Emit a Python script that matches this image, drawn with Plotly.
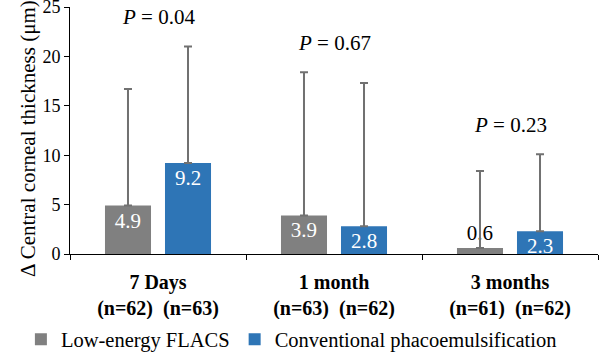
import plotly.graph_objects as go

categories = ["7 Days", "1 month", "3 months"]
n_flacs = [62, 63, 61]
n_phaco = [63, 62, 62]
flacs_mean = [4.9, 3.9, 0.6]
flacs_sd = [11.8, 14.5, 7.8]
phaco_mean = [9.2, 2.8, 2.3]
phaco_sd = [11.8, 14.5, 7.8]
p_values = ["0.04", "0.67", "0.23"]
y_ticks = [0, 5, 10, 15, 20, 25]
y_title = "\u0394 Central corneal thickness (\u03bcm)"

FONT = "Liberation Serif, Times New Roman, serif"
GRAY = "#808080"
BLUE = "#2E75B6"
ERR = "#717171"

def positions(vals):
    return ["inside" if v > 1 else "outside" for v in vals]

def bar_trace(name, means, sds, color):
    return go.Bar(
        name=name, x=categories, y=means,
        marker=dict(color=color, line=dict(width=0)),
        text=[f"{v:.1f}" for v in means], textposition=positions(means),
        insidetextanchor="end", constraintext="none", cliponaxis=False,
        insidetextfont=dict(color="white", size=21, family=FONT),
        outsidetextfont=dict(color="black", size=21, family=FONT),
        error_y=dict(type="data", array=sds, arrayminus=[0] * len(sds), symmetric=False,
                     color=ERR, thickness=2, width=4),
    )

fig = go.Figure()
fig.add_trace(bar_trace("Low-energy FLACS", flacs_mean, flacs_sd, GRAY))
fig.add_trace(bar_trace("Conventional phacoemulsification", phaco_mean, phaco_sd, BLUE))

for c, p, fm, fs, pm, ps in zip(categories, p_values, flacs_mean, flacs_sd, phaco_mean, phaco_sd):
    top = max(fm + fs, pm + ps)
    fig.add_annotation(x=c, y=top + 3.0, text=f"<i>P</i> = {p}", showarrow=False,
                       font=dict(size=21, family=FONT, color="black"))

fig.add_annotation(xref="paper", yref="paper", x=-0.106, y=0.466, text=y_title,
                   textangle=-90, showarrow=False,
                   font=dict(size=21, family=FONT, color="black"))

ticktext = [f"<b>{c}</b><br><b>(n={a})\u00a0\u00a0(n={b})</b>" for c, a, b in zip(categories, n_flacs, n_phaco)]

fig.update_layout(
    width=599, height=352,
    margin=dict(l=70, r=1, t=7, b=98, autoexpand=False),
    paper_bgcolor="white", plot_bgcolor="white",
    barmode="group", bargap=0.318, bargroupgap=0.233,
    font=dict(family=FONT, color="black", size=20),
    showlegend=True,
    legend=dict(orientation="h", x=-0.093, xanchor="left", y=-0.265, yanchor="top",
                font=dict(size=20.5, family=FONT), itemclick=False),
    xaxis=dict(tickmode="array", tickvals=categories, ticktext=ticktext,
               tickson="boundaries", ticks="outside", ticklen=5, tickcolor="black",
               showline=True, linecolor="black", linewidth=1, automargin=False,
               ticklabelstandoff=10,
               tickfont=dict(size=20, family=FONT, color="black")),
    yaxis=dict(range=[0, 25], tickvals=y_ticks, ticks="outside", ticklen=5,
               tickcolor="black", showline=True, linecolor="black", linewidth=1,
               showgrid=False, zeroline=False, automargin=False,
               ticklabeloverflow="allow",
               tickfont=dict(size=18, family=FONT, color="black")),
)

fig.write_html("out.html", config={"displayModeBar": False},
               post_script="document.body.style.margin='0';")
